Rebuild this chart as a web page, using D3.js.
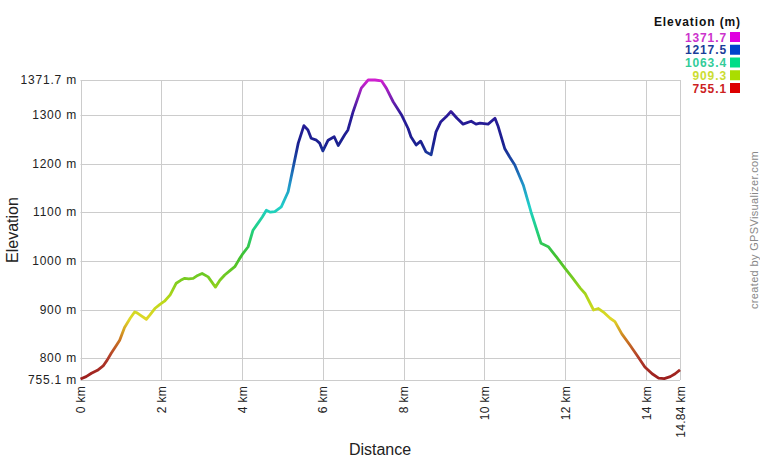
<!DOCTYPE html>
<html><head><meta charset="utf-8">
<script src="https://cdn.jsdelivr.net/npm/d3@7/dist/d3.min.js"></script>
<style>
html,body{margin:0;padding:0;background:#fff;}
text{font-family:"Liberation Sans",Arial,sans-serif;}
</style></head>
<body><svg id="c" width="760" height="460"></svg>
<script>
const distKm = [0,0.14,0.27,0.42,0.56,0.66,0.76,0.87,0.97,1.09,1.23,1.34,1.40,1.47,1.63,1.72,1.84,1.96,2.08,2.22,2.37,2.48,2.58,2.68,2.79,2.90,3.01,3.16,3.34,3.45,3.57,3.70,3.82,3.92,4.02,4.15,4.27,4.39,4.50,4.60,4.70,4.81,4.97,5.14,5.26,5.39,5.53,5.63,5.71,5.84,5.92,6.00,6.13,6.28,6.38,6.54,6.62,6.75,6.95,7.12,7.29,7.45,7.57,7.74,7.94,8.11,8.18,8.31,8.42,8.55,8.68,8.80,8.92,9.05,9.17,9.32,9.47,9.67,9.79,9.89,10.09,10.26,10.34,10.50,10.62,10.75,10.96,11.15,11.40,11.58,11.78,11.99,12.18,12.37,12.49,12.70,12.82,12.97,13.11,13.23,13.40,13.60,13.80,13.97,14.15,14.31,14.45,14.60,14.72,14.84];
const elevM = [757,762,769,775,784,796,810,824,837,863,882,895,893,889,880,889,902,910,917,930,954,960,964,963,964,970,974,967,946,960,971,980,988,1002,1015,1029,1063,1077,1090,1104,1100,1101,1111,1142,1190,1242,1278,1269,1252,1248,1242,1226,1248,1255,1237,1259,1269,1307,1355,1371.7,1371.7,1370,1355,1327,1301,1272,1255,1238,1246,1224,1218,1265,1286,1296,1307,1293,1281,1287,1281,1283,1281,1293,1276,1231,1214,1197,1156,1101,1036,1029,1008,985,965,944,933,899,902,893,882,875,850,827,803,782,768,759,758,762,768,776];
const yTicks = [755.1,800,900,1000,1100,1200,1300,1371.7];
const xTicks = [0,2,4,6,8,10,12,14,14.84];
const legendValues = [1371.7,1217.5,1063.4,909.3,755.1];
const legendSwatch = ["#e000e0","#0044cc","#00dd88","#aadd00","#dd0000"];
const legendText = ["#cc33cc","#1a3d99","#33cc99","#ccdd33","#cc2222"];
const gradElev = [755.1,800,840,880,920,960,1010,1063,1110,1160,1200,1240,1300,1330,1371.7];
const gradColor = ["#9b1c1c","#b03a2a","#cc7a20","#e0d828","#b8d818","#7ccc20","#40c030","#20d080","#20d0c8","#2090c8","#1a50a8","#1a2090","#2a1a98","#7020b0","#d020d0"];

const svg = d3.select("#c");
const x = d3.scaleLinear().domain([0,14.84]).range([80.5,680]);
const y = d3.scaleLinear().domain([755.1,1371.7]).range([380,80]);

const g = svg.append("g");
g.selectAll(".gy").data(yTicks).join("line")
 .attr("x1",x(0)).attr("x2",x(14.84)).attr("y1",d=>Math.round(y(d))+0.5).attr("y2",d=>Math.round(y(d))+0.5)
 .attr("stroke","#cccccc").attr("stroke-width",1);
g.selectAll(".gx").data(xTicks).join("line")
 .attr("y1",y(755.1)).attr("y2",y(1371.7)).attr("x1",d=>Math.round(x(d))+0.5).attr("x2",d=>Math.round(x(d))+0.5)
 .attr("stroke","#cccccc").attr("stroke-width",1);

svg.selectAll(".yl").data(yTicks).join("text")
 .attr("x",77).attr("y",d=>y(d)+4).attr("text-anchor","end").attr("letter-spacing","0.8px")
 .attr("font-size",12).attr("fill","#222").text(d=>d+" m");
svg.selectAll(".xl").data(xTicks).join("text")
 .attr("transform",d=>`translate(${x(d)+4.5},386) rotate(-90)`).attr("letter-spacing","0.3px")
 .attr("text-anchor","end").attr("font-size",12).attr("fill","#222").text(d=>d+" km");

svg.append("text").attr("transform","translate(18,230) rotate(-90)").attr("text-anchor","middle")
 .attr("font-size",16).attr("fill","#222").text("Elevation");
svg.append("text").attr("x",380).attr("y",455).attr("text-anchor","middle")
 .attr("font-size",16).attr("fill","#222").text("Distance");
svg.append("text").attr("transform","translate(758,230) rotate(-90)").attr("text-anchor","middle")
 .attr("font-size",11).attr("letter-spacing","0.35px").attr("fill","#888").text("created by GPSVisualizer.com");

const defs = svg.append("defs");
const lg = defs.append("linearGradient").attr("id","eg").attr("gradientUnits","userSpaceOnUse")
 .attr("x1",0).attr("x2",0).attr("y1",y(755.1)).attr("y2",y(1371.7));
lg.selectAll("stop").data(gradElev).join("stop")
 .attr("offset",d=>(d-755.1)/(1371.7-755.1)).attr("stop-color",(d,i)=>gradColor[i]);

const pts = distKm.map((d,i)=>[d,elevM[i]]);
const line = d3.line().x(d=>x(d[0])).y(d=>y(d[1]));
svg.append("path").attr("d",line(pts)).attr("fill","none").attr("stroke","url(#eg)")
 .attr("stroke-width",2.8).attr("stroke-linejoin","round");

svg.append("text").attr("x",741).attr("y",26).attr("text-anchor","end").attr("font-size",12)
 .attr("letter-spacing","0.9px").attr("font-weight","bold").attr("fill","#111").text("Elevation (m)");
const lgd = svg.append("g");
legendValues.forEach((v,i)=>{
  const yy = 37 + i*12.75;
  lgd.append("rect").attr("x",730).attr("y",yy-5).attr("width",10).attr("height",10).attr("fill",legendSwatch[i]);
  lgd.append("text").attr("x",727).attr("y",yy+4.5).attr("text-anchor","end").attr("font-size",12)
   .attr("letter-spacing","0.9px").attr("font-weight","bold").attr("fill",legendText[i]).text(v.toFixed(1));
});
</script></body></html>
